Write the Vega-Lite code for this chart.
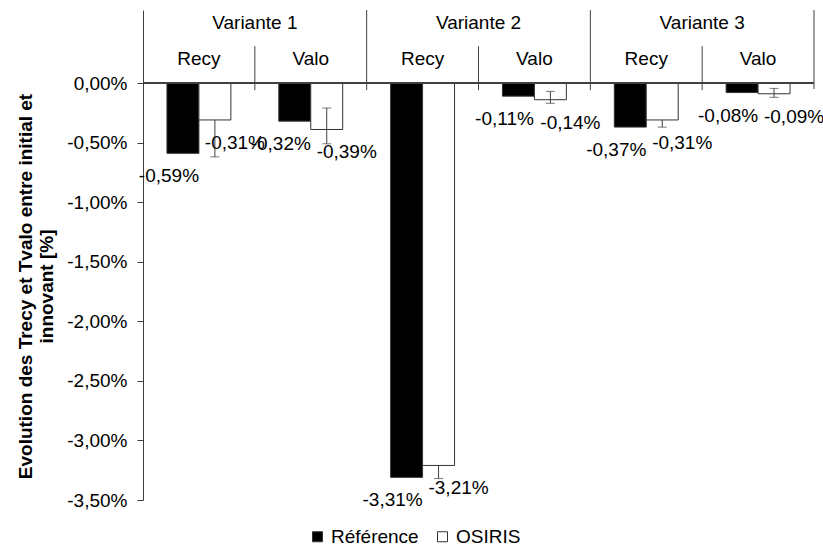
{
  "$schema": "https://vega.github.io/schema/vega-lite/v6.json",
  "width": 671,
  "height": 490,
  "autosize": {"type": "none"},
  "padding": {"left": 143, "top": 10, "right": 9, "bottom": 50},
  "config": {
    "font": "Liberation Sans",
    "view": {"stroke": null},
    "locale": {"number": {"decimal": ",", "thousands": " ", "grouping": [3], "currency": ["", ""], "minus": "-"}}
  },
  "datasets": {
    "bars": [
      {"slot": "V1 Recy", "cat": "Recy", "series": "Référence", "value": -0.0059},
      {"slot": "V1 Recy", "cat": "Recy", "series": "OSIRIS", "value": -0.0031, "err_lo": -0.0062, "err_hi": 0.0},
      {"slot": "V1 Valo", "cat": "Valo", "series": "Référence", "value": -0.0032},
      {"slot": "V1 Valo", "cat": "Valo", "series": "OSIRIS", "value": -0.0039, "err_lo": -0.0051, "err_hi": -0.0021},
      {"slot": "V2 Recy", "cat": "Recy", "series": "Référence", "value": -0.0331},
      {"slot": "V2 Recy", "cat": "Recy", "series": "OSIRIS", "value": -0.0321, "err_lo": -0.0332, "err_hi": -0.031},
      {"slot": "V2 Valo", "cat": "Valo", "series": "Référence", "value": -0.0011},
      {"slot": "V2 Valo", "cat": "Valo", "series": "OSIRIS", "value": -0.0014, "err_lo": -0.0017, "err_hi": -0.0007},
      {"slot": "V3 Recy", "cat": "Recy", "series": "Référence", "value": -0.0037},
      {"slot": "V3 Recy", "cat": "Recy", "series": "OSIRIS", "value": -0.0031, "err_lo": -0.0037, "err_hi": -0.0025},
      {"slot": "V3 Valo", "cat": "Valo", "series": "Référence", "value": -0.0008},
      {"slot": "V3 Valo", "cat": "Valo", "series": "OSIRIS", "value": -0.0009, "err_lo": -0.0012, "err_hi": -0.00045}
    ],
    "groupdiv": [{"slot": "V2 Recy"}, {"slot": "V3 Recy"}],
    "subdiv": [{"slot": "V1 Valo"}, {"slot": "V2 Valo"}, {"slot": "V3 Valo"}],
    "enddiv": [{"slot": "V3 Valo"}],
    "groupheads": [
      {"slot": "V1 Valo", "label": "Variante 1"},
      {"slot": "V2 Valo", "label": "Variante 2"},
      {"slot": "V3 Valo", "label": "Variante 3"}
    ],
    "subheads": [
      {"slot": "V1 Recy", "label": "Recy"},
      {"slot": "V1 Valo", "label": "Valo"},
      {"slot": "V2 Recy", "label": "Recy"},
      {"slot": "V2 Valo", "label": "Valo"},
      {"slot": "V3 Recy", "label": "Recy"},
      {"slot": "V3 Valo", "label": "Valo"}
    ]
  },
  "layer": [
    {
      "data": {"name": "bars"},
      "transform": [{"filter": "datum.err_lo != null && datum.cat == 'Recy'"}],
      "mark": {"type": "rule", "color": "#404040", "strokeWidth": 1},
      "encoding": {
        "x": {"field": "slot", "type": "nominal", "axis": null, "scale": {"domain": ["V1 Recy", "V1 Valo", "V2 Recy", "V2 Valo", "V3 Recy", "V3 Valo"], "paddingInner": 0, "paddingOuter": 0}},
        "xOffset": {"field": "series", "type": "nominal", "scale": {"domain": ["Référence", "OSIRIS"], "paddingInner": 0, "paddingOuter": 0.75}},
        "y": {
          "field": "err_lo", "type": "quantitative",
          "scale": {"domain": [-0.035, 0.00613], "nice": false, "zero": false},
          "axis": {
            "values": [0, -0.005, -0.01, -0.015, -0.02, -0.025, -0.03, -0.035],
            "format": ".2%",
            "grid": false,
            "tickSize": 6,
            "tickColor": "#404040",
            "domainColor": "#404040",
            "labelFontSize": 19,
            "labelColor": "#000000",
            "labelPadding": 10,
            "title": ["Evolution des Trecy et Tvalo entre initial et", "innovant [%]"],
            "titleFontSize": 19,
            "titleFontWeight": "bold",
            "titleColor": "#000000",
            "titlePadding": 10,
            "titleLineHeight": 21,
            "titleY": 276
          }
        },
        "y2": {"field": "err_hi"}
      }
    },
    {
      "data": {"name": "bars"},
      "transform": [{"filter": "datum.err_lo != null && datum.cat == 'Recy'"}],
      "mark": {"type": "tick", "color": "#404040", "thickness": 1, "size": 9, "orient": "horizontal"},
      "encoding": {
        "x": {"field": "slot", "type": "nominal"},
        "xOffset": {"field": "series", "type": "nominal"},
        "y": {"field": "err_lo", "type": "quantitative"}
      }
    },
    {
      "data": {"name": "bars"},
      "mark": {"type": "bar", "stroke": "#333333", "strokeWidth": 1},
      "encoding": {
        "x": {"field": "slot", "type": "nominal"},
        "xOffset": {"field": "series", "type": "nominal"},
        "y": {"field": "value", "type": "quantitative"},
        "y2": {"datum": 0},
        "color": {
          "field": "series", "type": "nominal",
          "scale": {"domain": ["Référence", "OSIRIS"], "range": ["#000000", "#ffffff"]},
          "legend": {
            "title": null,
            "orient": "none",
            "direction": "horizontal",
            "legendX": 165,
            "legendY": 517,
            "symbolType": "square",
            "symbolSize": 100,
            "symbolStrokeColor": "#333333",
            "symbolStrokeWidth": 1,
            "labelFontSize": 19,
            "labelColor": "#000000",
            "columnPadding": 14,
            "labelOffset": 4
          }
        }
      }
    },
    {
      "data": {"name": "bars"},
      "transform": [{"filter": "datum.err_lo != null && datum.cat == 'Valo'"}],
      "mark": {"type": "rule", "color": "#404040", "strokeWidth": 1},
      "encoding": {
        "x": {"field": "slot", "type": "nominal"},
        "xOffset": {"field": "series", "type": "nominal"},
        "y": {"field": "err_lo", "type": "quantitative"},
        "y2": {"field": "err_hi"}
      }
    },
    {
      "data": {"name": "bars"},
      "transform": [{"filter": "datum.err_lo != null && datum.cat == 'Valo'"}, {"fold": ["err_lo", "err_hi"], "as": ["end", "endval"]}],
      "mark": {"type": "tick", "color": "#404040", "thickness": 1, "size": 9, "orient": "horizontal"},
      "encoding": {
        "x": {"field": "slot", "type": "nominal"},
        "xOffset": {"field": "series", "type": "nominal"},
        "y": {"field": "endval", "type": "quantitative"}
      }
    },
    {
      "data": {"name": "bars"},
      "mark": {"type": "rule", "color": "#404040", "strokeWidth": 1},
      "encoding": {"y": {"datum": 0, "type": "quantitative"}}
    },
    {
      "data": {"name": "groupdiv"},
      "mark": {"type": "rule", "color": "#404040", "strokeWidth": 1},
      "encoding": {
        "x": {"field": "slot", "type": "nominal", "bandPosition": 0},
        "y": {"datum": 0.00613, "type": "quantitative"},
        "y2": {"datum": -0.0006}
      }
    },
    {
      "data": {"name": "enddiv"},
      "mark": {"type": "rule", "color": "#404040", "strokeWidth": 1},
      "encoding": {
        "x": {"field": "slot", "type": "nominal", "bandPosition": 1},
        "y": {"datum": 0.00613, "type": "quantitative"},
        "y2": {"datum": -0.0005}
      }
    },
    {
      "data": {"name": "subdiv"},
      "mark": {"type": "rule", "color": "#404040", "strokeWidth": 1},
      "encoding": {
        "x": {"field": "slot", "type": "nominal", "bandPosition": 0},
        "y": {"datum": 0.0031, "type": "quantitative"},
        "y2": {"datum": -0.0006}
      }
    },
    {
      "data": {"name": "groupheads"},
      "mark": {"type": "text", "fontSize": 19, "color": "#000000", "baseline": "middle", "align": "center"},
      "encoding": {
        "x": {"field": "slot", "type": "nominal", "bandPosition": 0},
        "y": {"datum": 0.00504, "type": "quantitative"},
        "text": {"field": "label"}
      }
    },
    {
      "data": {"name": "subheads"},
      "mark": {"type": "text", "fontSize": 19, "color": "#000000", "baseline": "middle", "align": "center"},
      "encoding": {
        "x": {"field": "slot", "type": "nominal"},
        "y": {"datum": 0.002, "type": "quantitative"},
        "text": {"field": "label"}
      }
    },
    {
      "data": {"name": "bars"},
      "transform": [{"filter": "datum.series == 'Référence'"}],
      "mark": {"type": "text", "fontSize": 19, "color": "#000000", "baseline": "middle", "align": "center", "dx": -14, "dy": 23},
      "encoding": {
        "x": {"field": "slot", "type": "nominal"},
        "xOffset": {"field": "series", "type": "nominal"},
        "y": {"field": "value", "type": "quantitative"},
        "text": {"field": "value", "type": "quantitative", "format": ".2%"}
      }
    },
    {
      "data": {"name": "bars"},
      "transform": [{"filter": "datum.series == 'OSIRIS'"}],
      "mark": {"type": "text", "fontSize": 19, "color": "#000000", "baseline": "middle", "align": "center", "dx": 20, "dy": 23},
      "encoding": {
        "x": {"field": "slot", "type": "nominal"},
        "xOffset": {"field": "series", "type": "nominal"},
        "y": {"field": "value", "type": "quantitative"},
        "text": {"field": "value", "type": "quantitative", "format": ".2%"}
      }
    }
  ]
}
